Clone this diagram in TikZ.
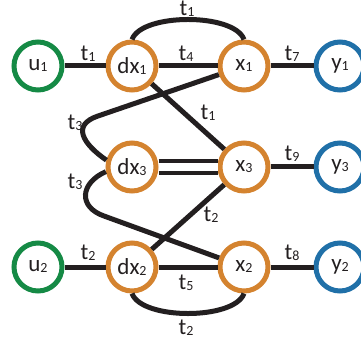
\documentclass[tikz,border=0pt]{standalone}
\usepackage{fontspec}
\setmainfont{Carlito}
\usepackage{tikz}
\definecolor{NetGreen}{HTML}{158A45}
\definecolor{NetOrange}{HTML}{D4832F}
\definecolor{NetBlue}{HTML}{2070A8}
\definecolor{NetInk}{HTML}{231F20}
\newcommand{\ix}[1]{{\fontsize{14}{14}\selectfont\raisebox{-1pt}{#1}}}
\tikzset{
  netlabel/.style={font=\fontsize{23}{23}\selectfont, text=NetInk, inner sep=1pt},
  netnode/.style={circle, draw, line width=5pt, minimum size=48pt, inner sep=0pt, fill=white, netlabel},
  innode/.style={netnode, draw=NetGreen},
  midnode/.style={netnode, draw=NetOrange},
  outnode/.style={netnode, draw=NetBlue},
  netlink/.style={line width=5pt, draw=NetInk},
  netdouble/.style={line width=4pt, draw=NetInk, double=white, double distance=8pt}
}

\begin{document}
\begin{tikzpicture}[x=1pt, y=1pt]
\useasboundingbox (0,0) rectangle (361,343);
% row 1
\node[innode] (u1) at (38,277) {u\ix1};
\node[midnode] (dx1) at (132,277) {dx\ix1};
\node[midnode] (x1) at (244,277) {x\ix1};
\node[outnode] (y1) at (340,277) {y\ix1};
% row 2
\node[midnode] (dx3) at (132,176) {dx\ix3};
\node[midnode] (x3) at (244,176) {x\ix3};
\node[outnode] (y3) at (340,176) {y\ix3};
% row 3
\node[innode] (u2) at (38,76) {u\ix2};
\node[midnode] (dx2) at (132,76) {dx\ix2};
\node[midnode] (x2) at (244,76) {x\ix2};
\node[outnode] (y2) at (340,76) {y\ix2};
% links
\foreach \a/\b in {u1/dx1,dx1/x1,x1/y1,x3/y3,u2/dx2,dx2/x2,x2/y2,dx1/x3,x3/dx2}{\draw[netlink] (\a) -- (\b);}
\draw[netdouble] (dx3) -- (x3);
\draw[netlink] (dx1.north) to[out=70,in=110,looseness=0.65] (x1.north);
\draw[netlink] (dx2.south) to[out=-70,in=-110,looseness=0.65] (x2.south);
\coordinate (b1) at (98,227);
\coordinate (b2) at (104,127);
\draw[netlink] (x1) -- (b1) .. controls (71,218) and (83,199) .. (dx3.165);
\draw[netlink] (dx3.190) .. controls (80,160) and (78,136) .. (b2) -- (x2);
% labels
\foreach \nm/\px/\py/\s in {ta/88/289/1,tb/186/289/4,tc/292/289/7,td/187/334/1,te/208/230/1,
  tf/75/220/3,tg/75/161/3,th/292/189/9,ti/211/128/2,tj/88/90/2,tk/186/60/5,tl/292/90/8,tm/186/15/2}
  {\node[netlabel] (\nm) at (\px,\py) {t\ix{\s}};}
\end{tikzpicture}
\end{document}
